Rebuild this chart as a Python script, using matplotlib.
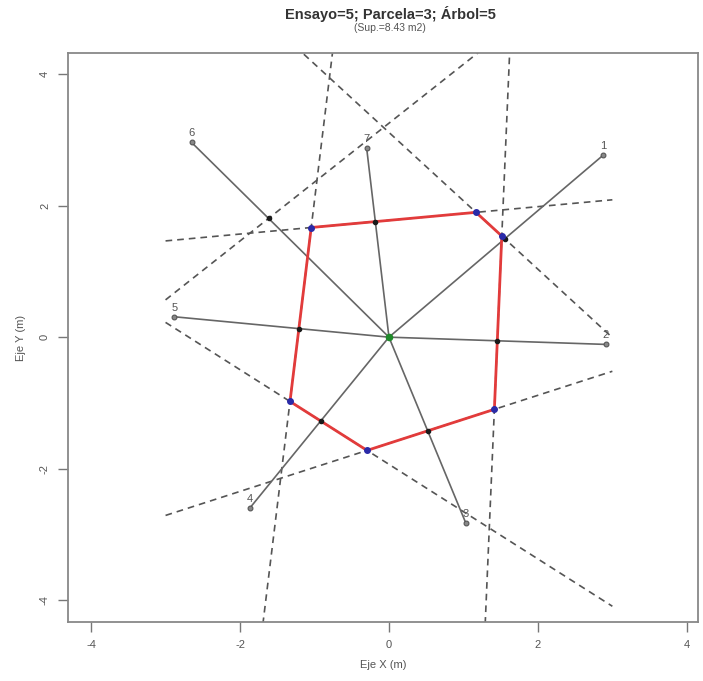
import numpy as np
import matplotlib
matplotlib.use("Agg")
import matplotlib.pyplot as plt

plt.rcParams["font.family"] = ["Liberation Sans", "DejaVu Sans"]
plt.rcParams["axes.unicode_minus"] = False

# ---- data ----
labels = ["1", "2", "3", "4", "5", "6", "7"]
nx = [2.88, 2.91, 1.03, -1.87, -2.88, -2.65, -0.30]
ny = [2.77, -0.11, -2.82, -2.60, 0.31, 2.96, 2.88]
# fraction of the distance to each neighbour where the dividing line crosses
frac = [0.54, 0.50, 0.505, 0.49, 0.42, 0.61, 0.61]
center = (0.0, 0.0)
title = "Ensayo=5; Parcela=3; Árbol=5"
subtitle = "(Sup.=8.43 m2)"
xticks = [-4, -2, 0, 2, 4]
yticks = [-4, -2, 0, 2, 4]
line_xrange = (-3.0, 3.0)

nx = np.array(nx); ny = np.array(ny); frac = np.array(frac)
px = nx * frac; py = ny * frac

# polygon from half-plane intersection
def clip(poly, n, c):
    out = []
    m = len(poly)
    for k in range(m):
        a = poly[k]; b = poly[(k + 1) % m]
        fa = n[0] * a[0] + n[1] * a[1] - c
        fb = n[0] * b[0] + n[1] * b[1] - c
        if fa <= 0:
            out.append(a)
        if (fa < 0 < fb) or (fb < 0 < fa):
            t = fa / (fa - fb)
            out.append((a[0] + t * (b[0] - a[0]), a[1] + t * (b[1] - a[1])))
    return out

poly = [(-20, -20), (20, -20), (20, 20), (-20, 20)]
for i in range(len(nx)):
    n = (nx[i], ny[i])
    poly = clip(poly, n, nx[i] * px[i] + ny[i] * py[i])
poly = np.array(poly)

fig = plt.figure(figsize=(7.03, 6.81), dpi=100)
ax = fig.add_axes([68 / 703, 1 - 622 / 681, (698 - 68) / 703, (622 - 53) / 681])
ax.set_xlim(-4.31, 4.15)
ax.set_ylim(-4.33, 4.32)

gray = "#666666"
# dashed dividing lines
xs = np.linspace(line_xrange[0], line_xrange[1], 2)
for i in range(len(nx)):
    c = nx[i] * px[i] + ny[i] * py[i]
    if abs(ny[i]) > 1e-9:
        ys = (c - nx[i] * xs) / ny[i]
        ax.plot(xs, ys, color="#555555", lw=1.2, dashes=(4, 3), zorder=2)

# radial lines
for i in range(len(nx)):
    ax.plot([center[0], nx[i]], [center[1], ny[i]], color=gray, lw=1.2, zorder=3)

# polygon
pc = np.vstack([poly, poly[:1]])
ax.plot(pc[:, 0], pc[:, 1], color="#e23b3b", lw=2.0, zorder=4)

# crossing points
ax.scatter(px, py, s=9, color="#1a1a1a", zorder=5)
# polygon vertices
ax.scatter(poly[:, 0], poly[:, 1], s=16, color="#2a2aa8", zorder=6)
# neighbours
ax.scatter(nx, ny, s=12, facecolor="#888888", edgecolor="#555555", lw=0.8, zorder=6)
for i in range(len(nx)):
    ax.annotate(labels[i], (nx[i], ny[i]), xytext=(0, 3), textcoords="offset points",
                ha="center", va="bottom", fontsize=8, color="#555555", zorder=7)
# center tree
ax.scatter([center[0]], [center[1]], s=20, color="#1f8a2a", zorder=7)

ax.set_xticks(xticks)
ax.set_yticks(yticks)
ax.tick_params(axis="both", length=7, width=1, color="#777777", labelcolor="#555555",
               labelsize=8, pad=6)
for lab in ax.get_yticklabels():
    lab.set_rotation(90)
    lab.set_va("center")
for s in ax.spines.values():
    s.set_color("#888888")
    s.set_linewidth(1.3)

ax.set_xlabel("Eje X (m)", fontsize=8, color="#555555", labelpad=7)
ax.set_ylabel("Eje Y (m)", fontsize=8, color="#555555", labelpad=10)

fig.text(390 / 703, 1 - 14 / 681, title, ha="center", va="center", fontsize=10.5,
         fontweight="bold", color="#333333")
fig.text(390 / 703, 1 - 28 / 681, subtitle, ha="center", va="center", fontsize=7.5,
         color="#555555")

fig.savefig("out.png", dpi=100)
